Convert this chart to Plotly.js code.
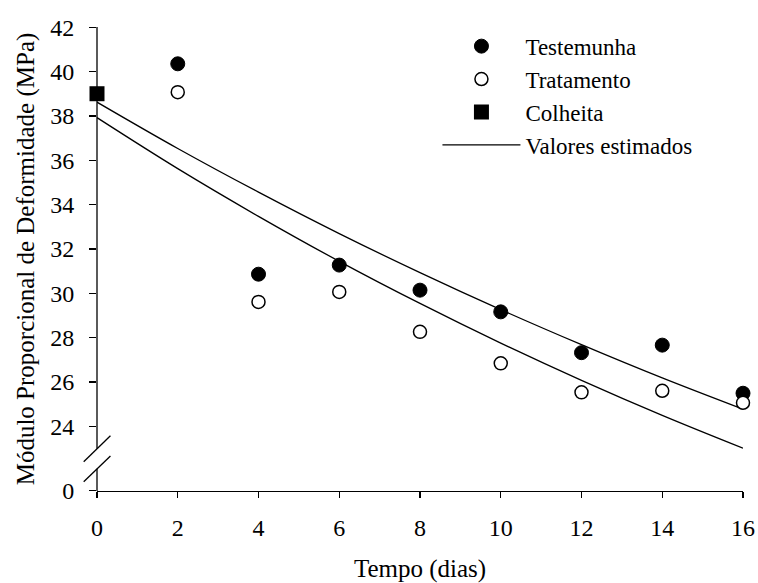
<!DOCTYPE html>
<html>
<head>
<meta charset="utf-8">
<script src="https://cdn.plot.ly/plotly-3.0.1.min.js"></script>
<style>html,body{margin:0;padding:0;background:#fff;}#chart{width:758px;height:583px;}</style>
</head>
<body>
<div id="chart"></div>
<script>
// Data
const dias = [0, 2, 4, 6, 8, 10, 12, 14, 16];
const diasMedidos = [2, 4, 6, 8, 10, 12, 14, 16];
const testemunha = [40.35, 30.86, 31.27, 30.14, 29.16, 27.32, 27.66, 25.49];
const tratamento = [39.07, 29.61, 30.06, 28.26, 26.84, 25.53, 25.60, 25.06];
const colheitaDia = [0];
const colheita = [39.0];
const estimadoTestemunha = [38.62, 36.53, 34.56, 32.69, 30.93, 29.26, 27.68, 26.18, 24.77];
const estimadoTratamento = [37.92, 35.62, 33.47, 31.44, 29.54, 27.75, 26.07, 24.49, 23.01];
const xTicks = [0, 2, 4, 6, 8, 10, 12, 14, 16];
const yTickLabels = ['0', '24', '26', '28', '30', '32', '34', '36', '38', '40', '42'];

// Broken axis: the "0" label sits just below the break
const ZERO_POS = 21.09;
const yTickVals = [ZERO_POS, 24, 26, 28, 30, 32, 34, 36, 38, 40, 42];

const FONT = '"Liberation Serif", "Times New Roman", Times, serif';
const LW = 1.3;

const traces = [
  {x: dias, y: estimadoTestemunha, mode: 'lines', line: {color: 'black', width: LW, shape: 'spline'},
   name: 'Valores estimados', legendrank: 4, showlegend: true},
  {x: dias, y: estimadoTratamento, mode: 'lines', line: {color: 'black', width: LW, shape: 'spline'},
   name: 'Valores estimados', legendrank: 5, showlegend: false},
  {x: diasMedidos, y: testemunha, mode: 'markers', name: 'Testemunha', legendrank: 1, cliponaxis: false,
   marker: {symbol: 'circle', size: 14, color: 'black', line: {color: 'black', width: 1}}},
  {x: diasMedidos, y: tratamento, mode: 'markers', name: 'Tratamento', legendrank: 2, cliponaxis: false,
   marker: {symbol: 'circle', size: 13, color: 'white', line: {color: 'black', width: 1.5}}},
  {x: colheitaDia, y: colheita, mode: 'markers', name: 'Colheita', legendrank: 3, cliponaxis: false,
   marker: {symbol: 'square', size: 15, color: 'black', line: {color: 'black', width: 0}}}
];

const shapes = [
  // y axis line in two parts around the break
  {type: 'line', xref: 'paper', yref: 'paper', x0: 0, x1: 0, y0: 0.0911, y1: 1, line: {color: 'black', width: LW}},
  {type: 'line', xref: 'paper', yref: 'paper', x0: 0, x1: 0, y0: 0, y1: 0.0478, line: {color: 'black', width: LW}},
  // break slashes
  {type: 'line', xref: 'paper', yref: 'paper', x0: -0.0206, x1: 0.0208, y0: 0.0631, y1: 0.1191, line: {color: 'black', width: LW}},
  {type: 'line', xref: 'paper', yref: 'paper', x0: -0.0206, x1: 0.0208, y0: 0.0200, y1: 0.0754, line: {color: 'black', width: LW}}
];

const layout = {
  width: 758, height: 583,
  margin: {l: 97, r: 15, t: 27, b: 92},
  paper_bgcolor: 'white', plot_bgcolor: 'white',
  font: {family: FONT, color: 'black', size: 24},
  showlegend: true,
  legend: {x: 0.527, y: 1.005, xanchor: 'left', yanchor: 'top', bgcolor: 'rgba(0,0,0,0)',
           borderwidth: 0, itemwidth: 78, font: {family: FONT, size: 23, color: 'black'}, traceorder: 'normal'},
  xaxis: {
    range: [0, 16], tickvals: xTicks, ticktext: xTicks.map(String),
    showline: true, linecolor: 'black', linewidth: LW, mirror: false,
    ticks: 'outside', ticklen: 6, tickwidth: LW, tickcolor: 'black',
    showgrid: false, zeroline: false, ticklabelstandoff: 9,
    tickfont: {family: FONT, size: 24, color: 'black'},
    title: {text: 'Tempo (dias)', font: {family: FONT, size: 25, color: 'black'}, standoff: 24},
    automargin: false
  },
  yaxis: {
    range: [21.08, 42.01], tickvals: yTickVals, ticktext: yTickLabels,
    showline: false, ticks: 'outside', ticklen: 7, tickwidth: LW, tickcolor: 'black',
    showgrid: false, zeroline: false, ticklabelstandoff: 10,
    tickfont: {family: FONT, size: 24, color: 'black'},
    title: {text: 'Módulo Proporcional de Deformidade (MPa)', font: {family: FONT, size: 25, color: 'black'}, standoff: 8},
    automargin: false
  },
  shapes: shapes
};

Plotly.newPlot('chart', traces, layout, {displayModeBar: false, staticPlot: true});
</script>
</body>
</html>
